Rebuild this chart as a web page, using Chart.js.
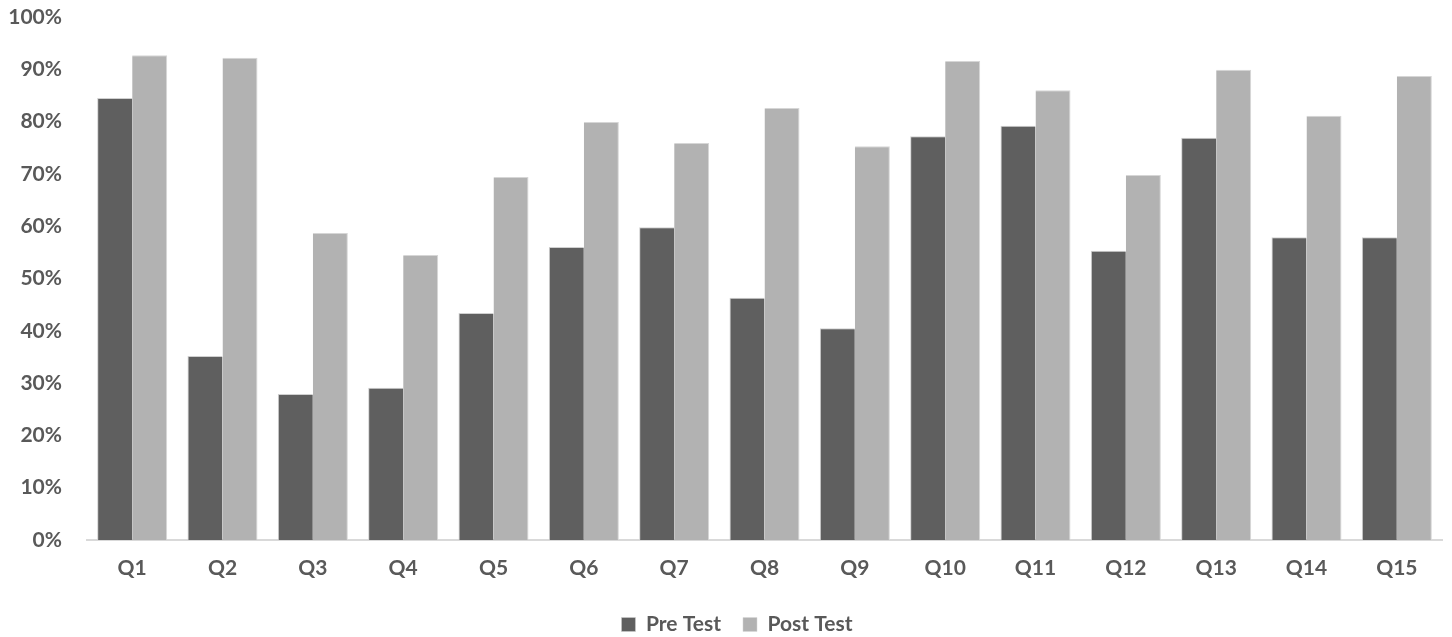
<!DOCTYPE html>
<html><head><meta charset="utf-8">
<script src="https://cdn.jsdelivr.net/npm/chart.js@4/dist/chart.umd.min.js"></script>
<style>html,body{margin:0;padding:0;background:#fff}#wrap{width:1452px;height:637px}</style>
</head><body><div id="wrap"><canvas id="c" width="1452" height="637"></canvas></div>
<script>
const categories = ["Q1","Q2","Q3","Q4","Q5","Q6","Q7","Q8","Q9","Q10","Q11","Q12","Q13","Q14","Q15"];
const preTest  = [84.5,35.2,27.9,29.1,43.4,56.0,59.8,46.3,40.5,77.2,79.2,55.3,76.9,57.9,57.9];
const postTest = [92.7,92.2,58.7,54.5,69.4,79.9,75.9,82.6,75.3,91.6,86.0,69.8,89.9,81.1,88.7];
const seriesNames = ["Pre Test","Post Test"];
const yTicks = [0,10,20,30,40,50,60,70,80,90,100];
const FONT = 'Lato';

const legendTweak = {
  id: 'legendTweak',
  beforeUpdate(chart) {
    const lg = chart.legend;
    if (lg && !lg._patched) {
      const orig = lg.fit;
      lg.fit = function () { orig.call(this); this.height -= 8; };
      lg._patched = true;
    }
  },
  afterLayout(chart) {
    if (chart.legend) chart.legend.left += 32;
  }
};

new Chart(document.getElementById('c'), {
  type: 'bar',
  data: {
    labels: categories,
    datasets: [
      {label: seriesNames[0], data: preTest, backgroundColor: '#5f5f5f', borderColor: '#d0d0d0', borderWidth: {right:0,left:1,top:1,bottom:0}, categoryPercentage: 0.775, barPercentage: 1},
      {label: seriesNames[1], data: postTest, backgroundColor: '#b2b2b2', borderColor: '#d6d6d6', borderWidth: {right:1,left:0,top:1,bottom:0}, categoryPercentage: 0.775, barPercentage: 1}
    ]
  },
  plugins: [legendTweak],
  options: {
    responsive: false,
    animation: false,
    layout: {padding: {left: 0, right: 10, top: 0, bottom: 0}},
    plugins: {
      legend: {
        position: 'bottom',
        labels: {font: {family: FONT, size: 21, weight: 'bold'}, color: '#595959', boxWidth: 14, boxHeight: 14, padding: 22},
      },
      tooltip: {enabled: false}
    },
    scales: {
      x: {
        grid: {display: false, drawTicks: false},
        border: {display: true, color: '#d9d9d9', width: 2},
        ticks: {font: {family: FONT, size: 21, weight: 'bold'}, color: '#595959', padding: 16},
        afterFit: (s) => { s.height = 97 - s.chart.legend.height; }
      },
      y: {
        min: 0, max: 100,
        afterBuildTicks: (s) => { s.ticks = yTicks.map(v => ({value: v})); },
        grid: {display: false, drawTicks: false},
        border: {display: false},
        ticks: {font: {family: FONT, size: 21, weight: 'bold'}, color: '#595959', padding: 25, callback: v => v + '%'},
        afterFit: (s) => { s.width = 87; s.paddingTop = 17; s.paddingBottom = 0; }
      }
    }
  }
});
</script></body></html>
